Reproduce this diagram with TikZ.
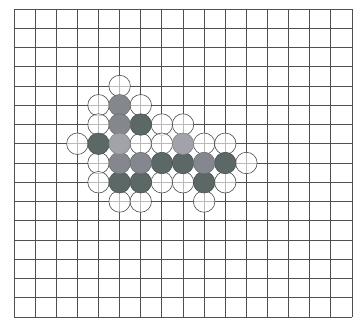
\documentclass[tikz,border=0pt]{standalone}
\usepackage{tikz}
\definecolor{gridgray}{RGB}{80,80,80}
\definecolor{dotdark}{RGB}{92,104,102}
\definecolor{dotmid}{RGB}{132,136,142}
\definecolor{dotlight}{RGB}{162,162,170}

\begin{document}
\begin{tikzpicture}[
    x=1pt, y=-1pt,
    gridln/.style={draw=gridgray, line width=0.9pt},
    ring/.style={circle, draw=black!70, line width=0.6pt, minimum size=21.5pt, inner sep=0pt, fill=white, fill opacity=0.6},
    darkdot/.style={ring, fill=dotdark, fill opacity=1, draw=dotdark!80!black},
    middot/.style={ring, fill=dotmid, fill opacity=1, draw=dotmid!80!black},
    lightdot/.style={ring, fill=dotlight, fill opacity=1, draw=dotlight!80!black}
]
\useasboundingbox (0,0) rectangle (355,325);
\fill[white] (0,0) rectangle (355,325);

% square paper, 16 x 16 cells
\begin{scope}[shift={(14,9)}, x=21.125pt, y=-19.25pt]
\foreach \i in {0,...,16} \draw[gridln] (\i,0) -- (\i,16);
\foreach \j in {0,...,16} \draw[gridln] (0,\j) -- (16,\j);

% empty places
\foreach \i/\j in {5/4, 4/5, 6/5, 4/6, 7/6, 8/6, 3/7, 6/7, 7/7, 9/7, 10/7,
                   4/8, 11/8, 4/9, 7/9, 8/9, 10/9, 5/10, 6/10, 9/10}
  \node[ring] (c-\i-\j) at (\i,\j) {};

% occupied places
\foreach \i/\j in {6/6, 4/7, 7/8, 8/8, 10/8, 5/9, 6/9, 9/9}
  \node[darkdot] (c-\i-\j) at (\i,\j) {};
\foreach \i/\j in {5/5, 5/6, 5/8, 6/8, 9/8}
  \node[middot] (c-\i-\j) at (\i,\j) {};
\foreach \i/\j in {5/7, 8/7}
  \node[lightdot] (c-\i-\j) at (\i,\j) {};
\end{scope}
\end{tikzpicture}
\end{document}
